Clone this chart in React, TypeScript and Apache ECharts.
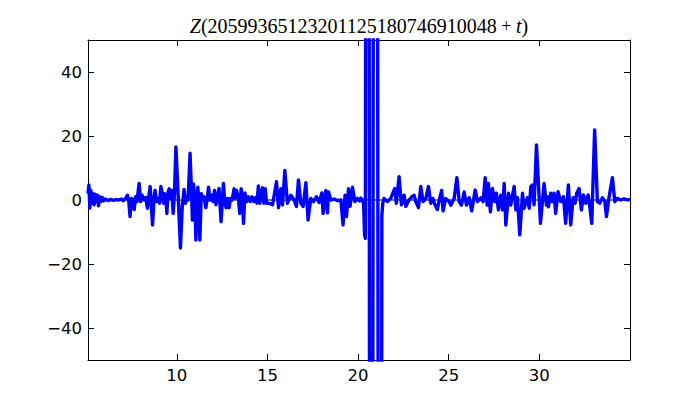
import React, { useEffect, useRef } from "react";
import * as echarts from "echarts";

const titleDigits = "20599365123201125180746910048";

const xTickLabels = [10, 15, 20, 25, 30];
const yTickLabels = [-40, -20, 0, 20, 40];

const tValues = [
  5.1, 5.15, 5.2, 5.26, 5.32, 5.38, 5.44, 5.5, 5.56, 5.62, 5.68, 5.74, 5.8, 5.88, 5.96, 6.05, 6.2, 6.35, 6.5, 6.65, 6.8, 6.95, 7.05, 7.15,
  7.28, 7.35, 7.42, 7.5, 7.58, 7.65, 7.72, 7.8, 7.92, 8.0, 8.08, 8.18, 8.28, 8.38, 8.45, 8.53, 8.66, 8.75, 8.8, 8.88, 8.96, 9.05,
  9.12, 9.2, 9.27, 9.33, 9.4, 9.45, 9.52, 9.58, 9.65, 9.72, 9.8, 9.87, 9.95, 10.1, 10.2, 10.3, 10.4, 10.48, 10.55, 10.62, 10.73,
  10.82, 10.86, 10.92, 11.0, 11.05, 11.16, 11.22, 11.27, 11.35, 11.42, 11.5, 11.6, 11.68, 11.75, 11.83, 11.92, 12.0, 12.08, 12.16,
  12.24, 12.33, 12.44, 12.57, 12.65, 12.72, 12.8, 12.88, 12.96, 13.05, 13.16, 13.22, 13.3, 13.4, 13.47, 13.55, 13.62, 13.68, 13.76,
  13.85, 13.95, 14.05, 14.15, 14.25, 14.35, 14.42, 14.5, 14.58, 14.65, 14.73, 14.8, 14.88, 14.95,
  15.09, 15.28, 15.5, 15.61, 15.74, 15.83, 15.96, 16.1, 16.29, 16.47, 16.6, 16.71, 16.84, 16.97, 17.12, 17.24, 17.39, 17.54, 17.7,
  17.85, 18.0, 18.07, 18.22, 18.31, 18.37, 18.49, 18.68, 18.86, 19.05, 19.17, 19.28, 19.36, 19.47, 19.56, 19.69, 19.82, 19.96,
  20.08, 20.15, 20.22, 20.3, 20.36, 20.4, 20.54, 20.7, 20.95, 21.23, 21.31, 21.36,
  21.43, 21.62, 21.8, 22.02, 22.11, 22.26, 22.39, 22.54, 22.63, 22.81, 22.96, 23.09, 23.18, 23.33, 23.46, 23.58, 23.73, 23.88,
  24.01, 24.13, 24.24, 24.37, 24.5, 24.61, 24.69, 24.83, 25.02,
  25.12, 25.3, 25.45, 25.58, 25.7, 25.85, 25.98, 26.13, 26.27, 26.46, 26.59, 26.77, 26.9, 27.01, 27.12, 27.19, 27.3, 27.41, 27.54,
  27.63, 27.74, 27.87, 27.97, 28.06, 28.15, 28.3, 28.42, 28.61, 28.7, 28.79, 28.92, 29.07, 29.16, 29.34, 29.44, 29.53, 29.62,
  29.71, 29.84, 30.06, 30.26, 30.39, 30.44, 30.5, 30.63, 30.72, 30.81, 30.9, 31.03, 31.18, 31.33, 31.45, 31.6, 31.73, 31.86,
  31.97, 32.06, 32.19, 32.32, 32.43, 32.56, 32.69, 32.78, 32.89, 33.05, 33.2, 33.33, 33.48, 33.61, 33.7, 33.84, 34.03, 34.16,
  34.3, 34.49, 34.67, 34.86, 35.0,
];

const zValues = [
  2, 4.7, -2.5, 3, -1, 2, -1.5, 1.8, -0.5, 1.5, -1.8, 1, -0.5, 0.8, -0.3, 0.3, -0.2, 0.2, -0.1, 0.1, 0, 0.3, -0.2, 0.3,
  1.5, -0.5, -5.2, 0.5, 0, -3, 1, -0.5, 5.2, -0.5, 1.5, 0, 0.8, -2.6, 1, 4.2, -7.8, 1, 3, -0.5, 0.5, -1,
  4.2, 2, -1, 2, 0.5, -4.2, 2.5, 3.5, 0.5, 3, -4.2, 2, 16.6, -2, -15, -2, 3.3, -1, 1, 0, 14.6,
  1, -6.3, 5, 0, -12.5, 4, -2, -12.5, 2, 0.5, 1, -2.4, 0.5, 4, 0, 1.5, -0.5, 3, -1.5,
  1, 3.6, -6.8, 5.2, -1, -2.4, 0.5, -2.4, 0.5, 0, 3.5, 0.5, 3, 0.5, -4.2, 3.5, 0.5, -7.3, 2.2,
  -0.5, 1, -0.5, 1, -0.5, 0.8, -1, 4.4, -1, 2, 3.8, -1, 3.5, -1,
  -1, -1.5, 5.7, -2.4, 3.5, -1.5, 9.2, -1, 1.5, 0, -2, 6.3, -1, -2, 5.4, -6.3, 0.5, -0.5, 1,
  -0.8, 2.2, -4.2, 3, -4, 2.5, 0, 0.3, -0.2, 0, -7.8, 1.5, -5.2, 3.5, -2, 4, -0.5, 0.5,
  -0.3, 0.6, 0.2, -1, -11, -12, 600, -600, 600, -600, -5, -1,
  0.5, -0.5, 0.5, 3.6, -1, 7.3, -1.5, 1.5, -2, 0, 1, 1.5, -0.5, -2.4, 4.2, -0.5, 0.3, 4.2,
  -1, 0.5, -1.5, -3, 0.5, 3, -3.4, 0.5, -0.5,
  -1.6, 0.5, 7, -0.5, -1.6, 2.5, -1.6, 0.7, -3.4, 3.1, -0.5, 0.7, -0.5, 7, -1.6, 5.2, -3.7, 3.6, -0.5,
  2.1, -3.1, 1.5, -3.1, 5.2, -7.8, 2.1, -1.6, 4.2, -3.1, 0.7, -10.9, 2.1, -2.6, 0.7, -2.6, 4.2, 4.7,
  -1.5, 17.2, -7.3, 5.2, -1.6, 1, -2.1, 2.1, -0.5, 2.1, -4.2, 2.6, -0.5, 1, -7.3, 4.7, -7.8, 0.7,
  -1, 2.1, 3.6, -3.1, 1.6, -1, 1.6, -2, -7.3, 21.9, -0.5, -1, 0.7, -0.3, -5.2, 0.7, 7, -0.5,
  0.5, 0, 0.4, 0, 0.2,
];

const X_MIN = 5.1;
const X_MAX = 35;
const Y_MIN = -50;
const Y_MAX = 50;

export default function App() {
  const ref = useRef<HTMLDivElement>(null);

  useEffect(() => {
    if (!ref.current) return;
    const chart = echarts.init(ref.current, null, { renderer: "svg" });

    const fmtX = (v: number) => (xTickLabels.includes(Math.round(v * 1000) / 1000) ? String(Math.round(v)) : "");
    const fmtY = (v: number) => {
      const r = Math.round(v * 1000) / 1000;
      if (!yTickLabels.includes(r)) return "";
      return r < 0 ? "\u2212" + String(Math.abs(r)) : String(r);
    };

    const axisCommon = {
      type: "value" as const,
      axisLine: { show: true, onZero: false, lineStyle: { color: "#000", width: 1 } },
      axisTick: { show: true, inside: true, length: 6, lineStyle: { color: "#000", width: 1 } },
      splitLine: { show: false },
    };

    const labelFont = { color: "#000", fontFamily: "DejaVu Sans", fontSize: 16.5 };

    const data = tValues.map((t, i) => [t, zValues[i]]);

    chart.setOption({
      animation: false,
      backgroundColor: "#fff",
      grid: { left: 88, right: 70, top: 40, bottom: 40, containLabel: false },
      xAxis: [
        { ...axisCommon, position: "bottom", min: X_MIN, max: X_MAX, splitNumber: 5,
          axisLabel: { ...labelFont, margin: 7, formatter: fmtX, showMinLabel: false, showMaxLabel: false } },
        { ...axisCommon, position: "top", min: X_MIN, max: X_MAX, splitNumber: 5, axisLabel: { show: false } },
      ],
      yAxis: [
        { ...axisCommon, position: "left", min: Y_MIN, max: Y_MAX, splitNumber: 5,
          axisLabel: { ...labelFont, margin: 6, formatter: fmtY } },
        { ...axisCommon, position: "right", min: Y_MIN, max: Y_MAX, splitNumber: 5, axisLabel: { show: false } },
      ],
      series: [
        {
          type: "line",
          xAxisIndex: 0,
          yAxisIndex: 0,
          data: [[X_MIN, 0], [X_MAX, 0]],
          showSymbol: false,
          silent: true,
          z: 1,
          lineStyle: { color: "#000", width: 1 },
        },
        {
          type: "line",
          xAxisIndex: 0,
          yAxisIndex: 0,
          data,
          showSymbol: false,
          clip: true,
          z: 2,
          lineStyle: { color: "#0000ff", width: 3.4, join: "round" },
        },
      ],
      graphic: [
        {
          type: "text",
          x: 359,
          y: 26,
          style: {
            text: "{i|Z}{n|(" + titleDigits + "}{o| + }{i|t}{n|)}",
            align: "center",
            verticalAlign: "middle",
            textAlign: "center",
            textVerticalAlign: "middle",
            rich: {
              i: { fontFamily: "Liberation Serif", fontStyle: "italic", fontSize: 20, fill: "#000", color: "#000" },
              n: { fontFamily: "Liberation Serif", fontSize: 20, fill: "#000", color: "#000" },
              o: { fontFamily: "Liberation Serif", fontSize: 18, fill: "#000", color: "#000" },
            },
          },
        },
      ],
    });

    return () => chart.dispose();
  }, []);

  return (
    <div
      ref={ref}
      style={{ position: "fixed", left: 0, top: 0, width: 700, height: 400, background: "#fff" }}
    />
  );
}
